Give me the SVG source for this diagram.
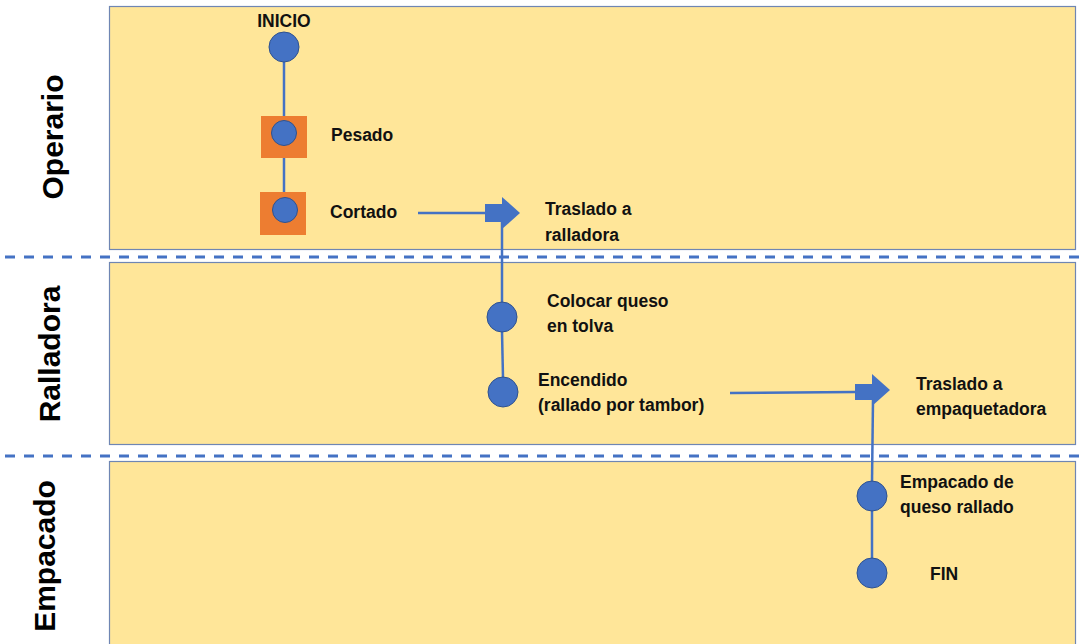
<svg xmlns="http://www.w3.org/2000/svg" width="1083" height="644" viewBox="0 0 1083 644">
  <style>
    .lane { fill: #FFE699; stroke: #6f86b3; stroke-width: 1.2; }
    .sep { stroke: #4472C4; stroke-width: 3; stroke-dasharray: 10 9; fill: none; }
    .lane-title { font-family: "Liberation Sans", Arial, sans-serif; font-weight: bold; font-size: 30px; fill: #000; text-anchor: middle; }
    .lbl { font-family: "Liberation Sans", Arial, sans-serif; font-weight: bold; font-size: 17.5px; fill: #111; }
    .dot { fill: #4472C4; stroke: #2F528F; stroke-width: 1; }
    .box { fill: #ED7D31; }
    .flow { stroke: #4472C4; stroke-width: 2.5; fill: none; }
    .blk { fill: #4472C4; }
  </style>

  <rect width="1083" height="644" fill="#ffffff"/>

  <!-- swimlanes -->
  <g id="lanes">
    <rect class="lane" x="109.5" y="6.5" width="966" height="243"/>
    <rect class="lane" x="109.5" y="262.5" width="966" height="182"/>
    <rect class="lane" x="109.5" y="461.5" width="966" height="190"/>
    <line class="sep" x1="5" y1="257" x2="1083" y2="257"/>
    <line class="sep" x1="5" y1="456" x2="1083" y2="456"/>
    <text class="lane-title" transform="translate(63 137) rotate(-90)">Operario</text>
    <text class="lane-title" transform="translate(60 354) rotate(-90)">Ralladora</text>
    <text class="lane-title" transform="translate(55 556) rotate(-90)">Empacado</text>
  </g>

  <!-- connectors -->
  <g id="connectors">
    <line class="flow" x1="284" y1="62" x2="284" y2="120"/>
    <line class="flow" x1="284" y1="146" x2="284" y2="197"/>
    <line class="flow" x1="418" y1="213" x2="486" y2="213"/>
    <rect class="blk" x="485" y="204" width="18" height="18"/>
    <polygon class="blk" points="502,197 520,213 502,229"/>
    <line class="flow" x1="502" y1="222" x2="502" y2="303"/>
    <line class="flow" x1="502" y1="331" x2="503" y2="378"/>
    <line class="flow" x1="730" y1="393" x2="856" y2="392"/>
    <rect class="blk" x="855" y="384" width="18" height="16"/>
    <polygon class="blk" points="872,374 890,390 872,406"/>
    <line class="flow" x1="873" y1="400" x2="872" y2="482"/>
    <line class="flow" x1="872" y1="510" x2="872" y2="559"/>
  </g>

  <g id="inicio">
    <circle class="dot" cx="284" cy="47" r="15"/>
    <text class="lbl" x="284" y="27" text-anchor="middle">INICIO</text>
  </g>

  <g id="pesado">
    <rect class="box" x="261" y="116" width="46" height="42"/>
    <circle class="dot" cx="284" cy="133" r="12.5"/>
    <text class="lbl" x="331" y="141">Pesado</text>
  </g>

  <g id="cortado">
    <rect class="box" x="260" y="192" width="46" height="43"/>
    <circle class="dot" cx="285" cy="210" r="12.5"/>
    <text class="lbl" x="330" y="218">Cortado</text>
  </g>

  <g id="traslado-ralladora">
    <text class="lbl" x="545" y="215">Traslado a</text>
    <text class="lbl" x="545" y="241">ralladora</text>
  </g>

  <g id="colocar-queso">
    <circle class="dot" cx="502" cy="317" r="15"/>
    <text class="lbl" x="547" y="307">Colocar queso</text>
    <text class="lbl" x="547" y="332">en tolva</text>
  </g>

  <g id="encendido">
    <circle class="dot" cx="503" cy="392" r="15"/>
    <text class="lbl" x="538" y="386">Encendido</text>
    <text class="lbl" x="538" y="411">(rallado por tambor)</text>
  </g>

  <g id="traslado-empaquetadora">
    <text class="lbl" x="916" y="390">Traslado a</text>
    <text class="lbl" x="916" y="415">empaquetadora</text>
  </g>

  <g id="empacado">
    <circle class="dot" cx="872" cy="496" r="15"/>
    <text class="lbl" x="900" y="488">Empacado de</text>
    <text class="lbl" x="900" y="513">queso rallado</text>
  </g>

  <g id="fin">
    <circle class="dot" cx="872" cy="573" r="15"/>
    <text class="lbl" x="930" y="580">FIN</text>
  </g>
</svg>
